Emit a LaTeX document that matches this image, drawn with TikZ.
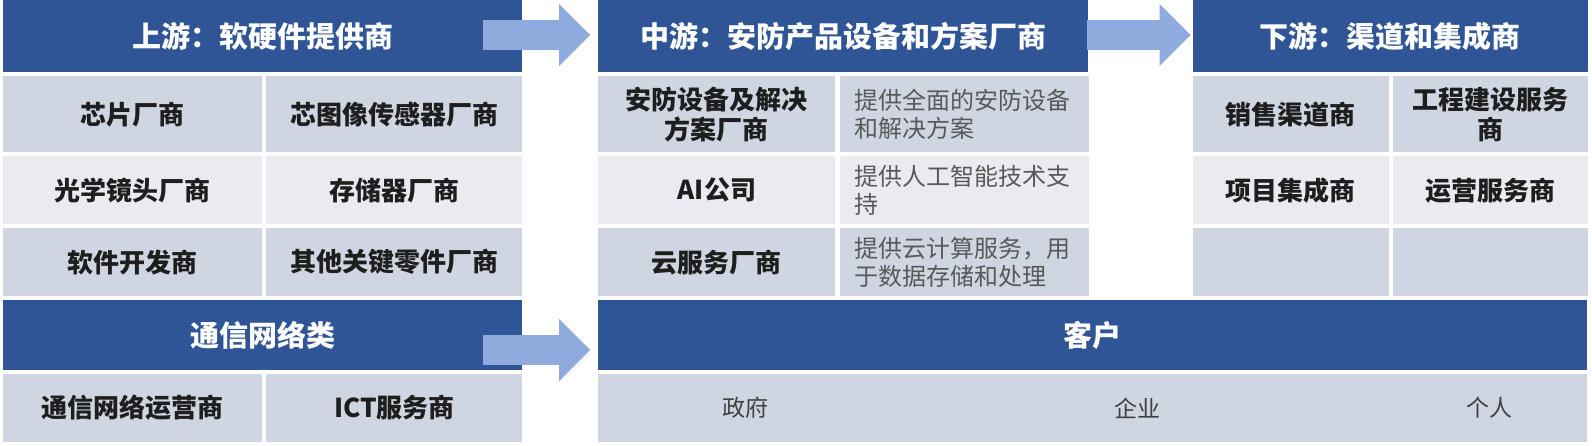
\documentclass[tikz,border=0pt]{standalone}
\usepackage{fontspec}
\setmainfont{Noto Sans CJK SC}
\usepackage{tikz}
\usetikzlibrary{positioning, arrows.meta}
\definecolor{hdblue}{HTML}{2F5597}
\definecolor{rowdark}{HTML}{CFD5E1}
\definecolor{rowlight}{HTML}{E9EBF1}
\definecolor{arrowblue}{HTML}{8FAADC}
\definecolor{celltext}{HTML}{1E1E1E}
\definecolor{desctext}{HTML}{595959}
\definecolor{custtext}{HTML}{404040}
\tikzstyle{header} = [rectangle, fill=hdblue, text=white, minimum height=72pt, inner sep=0pt, font=\fontsize{29}{34}\selectfont\bfseries]
\tikzstyle{cella} = [rectangle, fill=rowdark, minimum height=76.5pt, inner sep=0pt, align=center, text=celltext, font=\fontsize{26}{30}\selectfont\bfseries]
\tikzstyle{cellb} = [cella, fill=rowlight, minimum height=68pt]
\tikzstyle{cellc} = [cella, minimum height=68pt]
\tikzstyle{desc} = [text width=220pt, inner xsep=14.5pt, align=left, text=desctext, font=\fontsize{24}{28}\selectfont\mdseries]
\tikzstyle{upleft} = [minimum width=259pt]
\tikzstyle{upright} = [minimum width=256pt]
\tikzstyle{midleft} = [minimum width=237pt]
\tikzstyle{downleft} = [minimum width=196pt]
\tikzstyle{downright} = [minimum width=195pt]
\tikzstyle{custname} = [text=custtext, font=\fontsize{23}{27}\selectfont]
\tikzstyle{arrow} = [line width=30pt, draw=arrowblue, -{Triangle[length=31pt, width=60pt]}]

\begin{document}
\begin{tikzpicture}
		\useasboundingbox (0pt,0pt) rectangle (1592pt,-446pt);
		% upstream
		\node (hdup) [header, minimum width=519pt] at (262.5pt,-36pt) {上游：软硬件提供商};
		\node (u11) [cella, upleft, below right=3.5pt and 0pt of hdup.south west] {芯片厂商};
		\node (u12) [cella, upright, right=4pt of u11] {芯图像传感器厂商};
		\node (u21) [cellb, upleft, below=3.5pt of u11] {光学镜头厂商};
		\node (u22) [cellb, upright, below=3.5pt of u12] {存储器厂商};
		\node (u31) [cellc, upleft, below=3.5pt of u21] {软件开发商};
		\node (u32) [cellc, upright, below=3.5pt of u22] {其他关键零件厂商};
		\node (hdnet) [header, minimum width=519pt, minimum height=70pt, below right=3.5pt and 0pt of u31.south west] {通信网络类};
		\node (n1) [cellc, upleft, below right=3.5pt and 0pt of hdnet.south west] {通信网络运营商};
		\node (n2) [cellc, upright, right=4pt of n1] {ICT服务商};
		
		% midstream
		\node (hdmid) [header, minimum width=490pt, right=76pt of hdup] {中游：安防产品设备和方案厂商};
		\node (m11) [cella, midleft, below right=3.5pt and 0pt of hdmid.south west] {安防设备及解决\\方案厂商};
		\node (m12) [cella, desc, right=4pt of m11] {提供全面的安防设备\\和解决方案};
		\node (m21) [cellb, midleft, below=3.5pt of m11] {AI公司};
		\node (m22) [cellb, desc, right=4pt of m21] {提供人工智能技术支\\持};
		\node (m31) [cellc, midleft, below=3.5pt of m21] {云服务厂商};
		\node (m32) [cellc, desc, right=4pt of m31] {提供云计算服务，用\\于数据存储和处理};
		
		% downstream
		\node (hddown) [header, minimum width=395pt, right=104pt of hdmid] {下游：渠道和集成商};
		\node (d11) [cella, downleft, below right=3.5pt and 0pt of hddown.south west] {销售渠道商};
		\node (d12) [cella, downright, right=4pt of d11] {工程建设服务\\商};
		\node (d21) [cellb, downleft, below=3.5pt of d11] {项目集成商};
		\node (d22) [cellb, downright, below=3.5pt of d12] {运营服务商};
		\node (d31) [cellc, downleft, below=3.5pt of d21] {};
		\node (d32) [cellc, downright, below=3.5pt of d22] {};
		
		% customers
		\node (hdcust) [header, minimum width=989pt, minimum height=70pt, below right=3.5pt and 0pt of m31.south west] {客户};
		\node (cust) [cellc, minimum width=989pt, below right=3.5pt and 0pt of hdcust.south west] {};
		\node (gov) [custname] at ([xshift=147pt]cust.west) {政府};
		\node (ent) [custname] at ([xshift=539pt]cust.west) {企业};
		\node (per) [custname] at ([xshift=891pt]cust.west) {个人};
		
		\draw [arrow] ([xshift=-39pt,yshift=1pt]hdup.east) -- ([xshift=-8pt,yshift=1pt]hdmid.west);
		\draw [arrow] ([xshift=-2pt,yshift=1pt]hdmid.east) -- ([xshift=-2pt,yshift=1pt]hddown.west);
		\draw [arrow] ([xshift=-39pt,yshift=-15pt]hdnet.east) -- ([xshift=-8pt,yshift=-15pt]hdcust.west);
	\end{tikzpicture}
\end{document}
